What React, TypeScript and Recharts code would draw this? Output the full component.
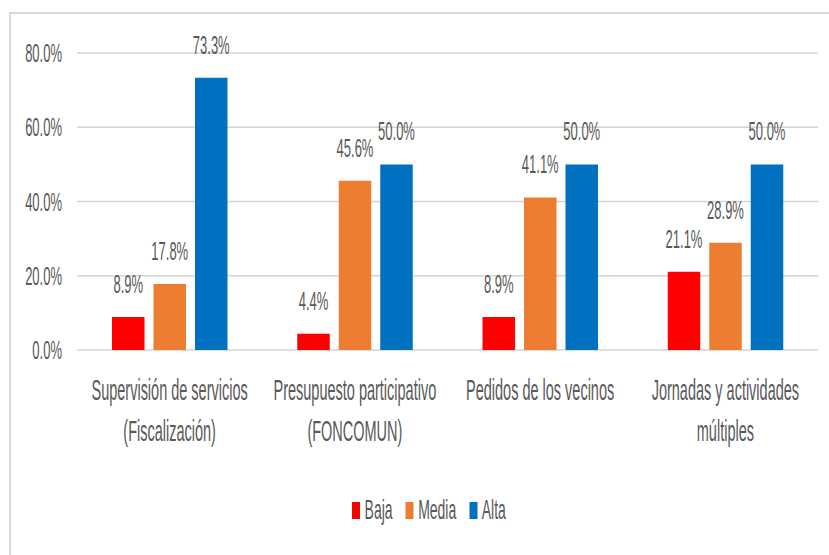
import { Bar, BarChart, CartesianGrid, LabelList, Legend, XAxis, YAxis } from "recharts";

const CATEGORIES = [
  "Supervisión de servicios\n(Fiscalización)",
  "Presupuesto participativo\n(FONCOMUN)",
  "Pedidos de los vecinos",
  "Jornadas y actividades\nmúltiples",
];
const BAJA = [8.9, 4.4, 8.9, 21.1];
const MEDIA = [17.8, 45.6, 41.1, 28.9];
const ALTA = [73.3, 50.0, 50.0, 50.0];
const Y_TICKS = [0, 20, 40, 60, 80];

const SERIES = [
  { key: "baja", name: "Baja", color: "#ff0000" },
  { key: "media", name: "Media", color: "#ed7d31" },
  { key: "alta", name: "Alta", color: "#0070c0" },
];

// the source chart has narrow (Calibri-ish) text, so the whole chart is drawn
// twice as wide and squeezed back horizontally
const SQUEEZE = 0.5;
const W = 829 / SQUEEZE;
const H = 555;
const FONT = '"Liberation Sans", Arial, sans-serif';
const TEXT = "#595959";

const rows = CATEGORIES.map((name, i) => ({
  name,
  baja: BAJA[i],
  media: MEDIA[i],
  alta: ALTA[i],
}));

const pct = (v: number | string) => `${Number(v).toFixed(1)}%`;

function CategoryTick({ x, y, payload }: any) {
  const lines = String(payload.value).split("\n");
  return (
    <text x={x} y={y} textAnchor="middle" fill={TEXT} fontSize={29} fontFamily={FONT}>
      {lines.map((line, i) => (
        <tspan key={i} x={x} dy={i === 0 ? 50 : 41}>
          {line}
        </tspan>
      ))}
    </text>
  );
}

// legend order follows SERIES, not recharts' sorting
function LegendRow() {
  return (
    <div
      style={{
        display: "flex",
        justifyContent: "center",
        alignItems: "center",
        height: 34,
        paddingLeft: 58,
        fontFamily: FONT,
        fontSize: 28,
        color: TEXT,
        gap: 26,
      }}
    >
      {SERIES.map((s) => (
        <span key={s.key} style={{ display: "flex", alignItems: "center" }}>
          <span style={{ width: 16, height: 17, background: s.color, marginRight: 9 }} />
          {s.name}
        </span>
      ))}
    </div>
  );
}

const labelProps = {
  position: "top" as const,
  offset: 24,
  formatter: pct,
  fill: TEXT,
  fontSize: 26,
  fontFamily: FONT,
};

export default function App() {
  return (
    <div
      style={{
        position: "absolute",
        left: 0,
        top: 0,
        width: 829,
        height: 555,
        overflow: "hidden",
        background: "#fff",
      }}
    >
      <div
        style={{
          position: "absolute",
          left: 9,
          top: 12,
          width: 840,
          height: 560,
          borderTop: "2px solid #d9d9d9",
          borderLeft: "2px solid #d9d9d9",
        }}
      />
      <div
        style={{
          position: "absolute",
          left: 0,
          top: 0,
          width: W,
          height: H,
          transform: `scaleX(${SQUEEZE})`,
          transformOrigin: "0 0",
        }}
      >
        <BarChart
          width={W}
          height={H}
          data={rows}
          margin={{ top: 53, right: 22, bottom: 28, left: 0 }}
          barSize={65}
          barGap={18}
        >
          <CartesianGrid vertical={false} stroke="#d4d4d4" strokeWidth={1.5} />
          <XAxis
            dataKey="name"
            axisLine={false}
            tickLine={false}
            tickSize={0}
            tickMargin={0}
            height={143}
            interval={0}
            tick={<CategoryTick />}
          />
          <YAxis
            domain={[0, 80]}
            ticks={Y_TICKS}
            axisLine={false}
            tickLine={false}
            tickSize={0}
            tickMargin={30}
            width={154}
            tickFormatter={pct}
            tick={{ fill: TEXT, fontSize: 26, fontFamily: FONT }}
          />
          <Legend
            verticalAlign="bottom"
            content={<LegendRow />}
            wrapperStyle={{ left: 0, width: W, height: 34 }}
          />
          {SERIES.map((s) => (
            <Bar key={s.key} dataKey={s.key} name={s.name} fill={s.color} isAnimationActive={false}>
              <LabelList dataKey={s.key} {...labelProps} />
            </Bar>
          ))}
        </BarChart>
      </div>
    </div>
  );
}
